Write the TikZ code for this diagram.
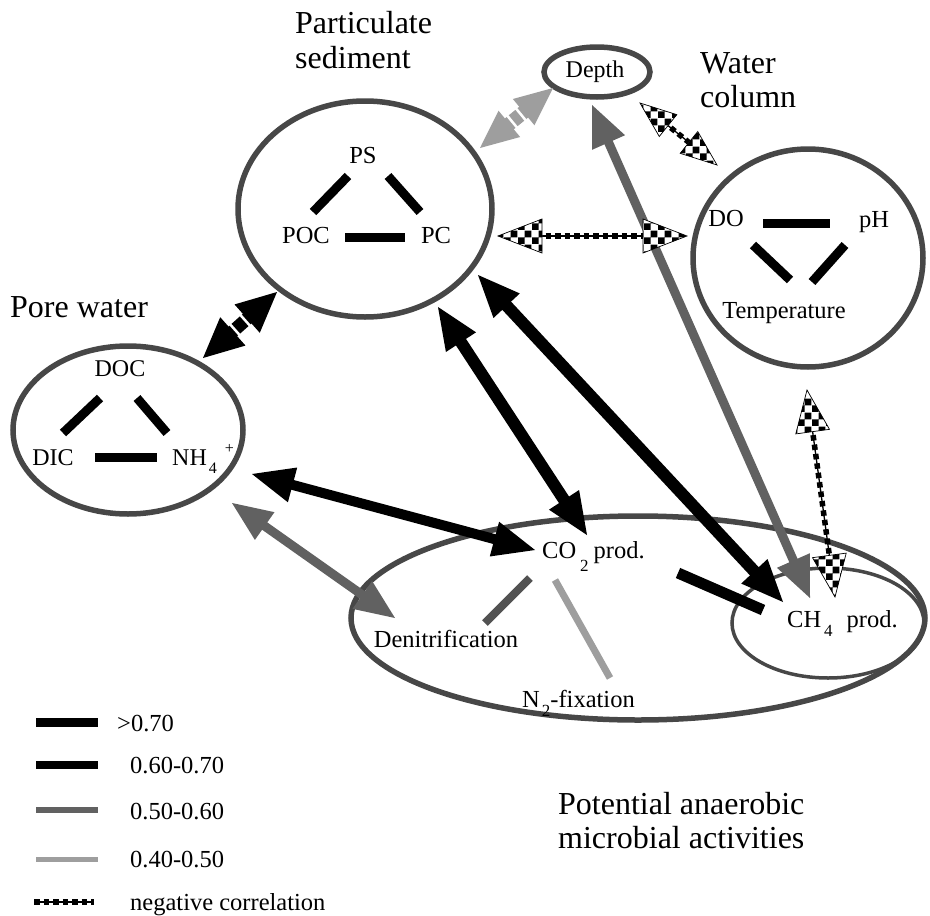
\documentclass[tikz,border=0pt]{standalone}
\usepackage{fontspec}
\setmainfont{Liberation Serif}
\usetikzlibrary{calc,patterns,shapes.geometric}
\pgfdeclarepatternformonly{checker}{\pgfpointorigin}{\pgfqpoint{14pt}{14pt}}{\pgfqpoint{14pt}{14pt}}{%
  \pgfpathrectangle{\pgfpointorigin}{\pgfqpoint{7pt}{7pt}}%
  \pgfpathrectangle{\pgfqpoint{7pt}{7pt}}{\pgfqpoint{7pt}{7pt}}%
  \pgfusepath{fill}}
\newcommand{\dblarr}[6]{%
  \path ($(#3)!#5pt!(#4)$) coordinate (hbA) ($(#4)!#5pt!(#3)$) coordinate (hbB)
        ($(#3)!#5pt-6pt!(#4)$) coordinate (shA) ($(#4)!#5pt-6pt!(#3)$) coordinate (shB);
  \draw[#1] (shA) -- (shB);
  \path[#2] (#3) -- ($(hbA)!#6pt!90:(#3)$) -- ($(hbA)!#6pt!-90:(#3)$) -- cycle;
  \path[#2] (#4) -- ($(hbB)!#6pt!90:(#4)$) -- ($(hbB)!#6pt!-90:(#4)$) -- cycle;
}
\newcommand{\wtick}[4]{%
  \path ($(#1)!#3!(#2)$) coordinate (wtp);
  \draw[white, line width=2.5pt] ($(wtp)!#4pt!90:(#2)$) -- ($(wtp)!#4pt!-90:(#2)$);
}
\begin{document}
\begin{tikzpicture}[x=1pt,y=-1pt,
  ring/.style={ellipse, draw=black!72, line width=5.5pt, inner sep=0pt},
  thinring/.style={ellipse, draw=black!72, line width=3.5pt, inner sep=0pt},
  lab/.style={font=\fontsize{24.5}{26}\selectfont, inner sep=0pt, anchor=base},
  ttl/.style={font=\fontsize{32}{35}\selectfont, inner sep=0pt, anchor=base west},
  leg/.style={font=\fontsize{24.5}{26}\selectfont, inner sep=0pt, anchor=base west},
  cA/.style={line width=9pt, black},
  negshaft/.style={line width=5.5pt, dash pattern=on 5.5pt off 4pt, preaction={draw, line width=1.3pt, solid}},
  hblack/.style={fill=black},
  hgray/.style={fill=black!62},
  hlight/.style={fill=black!38},
  hneg/.style={preaction={fill=white}, pattern=checker, draw=black, line width=0.7pt},
  shblack/.style={line width=12pt, black},
  shgray/.style={line width=9pt, black!62},
  shlight/.style={line width=14pt, black!38},
]
\useasboundingbox (0,0) rectangle (930,916);

% ---- containers
\node[ring, minimum width=254pt, minimum height=216pt] (part) at (365,209) {};
\node[ring, minimum width=230pt, minimum height=168pt] (pore) at (128,430) {};
\node[ring, minimum width=230pt, minimum height=218pt] (water) at (808,258) {};
\node[ring, minimum width=106pt, minimum height=50pt] (depthE) at (597,72) {};
\node[ring, minimum width=574pt, minimum height=204pt] (micro) at (638,618) {};
\node[thinring, minimum width=192pt, minimum height=110pt] (ch4E) at (828,623) {};

% ---- titles
\node[ttl] (t1) at (295,33) {Particulate};
\node[ttl] (t2) at (295,68) {sediment};
\node[ttl] (t3) at (700,73) {Water};
\node[ttl] (t4) at (700,107) {column};
\node[ttl] (t5) at (10,317) {Pore water};
\node[ttl] (t6) at (558,814) {Potential anaerobic};
\node[ttl] (t7) at (558,848) {microbial activities};

% ---- labels
\node[lab, font=\fontsize{24}{25}\selectfont] (depth) at (595,77) {Depth};
\node[lab] (PS) at (363,163) {PS};
\node[lab] (POC) at (306,243) {POC};
\node[lab] (PC) at (436,243) {PC};
\node[lab, font=\fontsize{24}{25}\selectfont] (DOC) at (120,376) {DOC};
\node[lab, font=\fontsize{24}{25}\selectfont] (DIC) at (53,465) {DIC};
\node[lab, font=\fontsize{24}{25}\selectfont, anchor=base west] (NH) at (172,465) {NH\hspace{2pt}\raisebox{-8pt}{\fontsize{16}{16}\selectfont 4}\hspace{8pt}\raisebox{12pt}{\fontsize{16}{16}\selectfont +}};
\node[lab] (DO) at (726,226) {DO};
\node[lab] (pH) at (874,227) {pH};
\node[lab] (Temp) at (784,318) {Temperature};
\node[lab, anchor=base west] (CO2) at (542,558) {CO\hspace{4pt}\raisebox{-13pt}{\fontsize{17}{17}\selectfont 2}\hspace{5pt}prod.};
\node[lab, anchor=base west] (CH4) at (787,627) {CH\hspace{3pt}\raisebox{-9pt}{\fontsize{17}{17}\selectfont 4}\hspace{14pt}prod.};
\node[lab] (Denit) at (446,647) {Denitrification};
\node[lab, anchor=base west] (N2) at (522,707) {N\hspace{2pt}\raisebox{-9pt}{\fontsize{17}{17}\selectfont 2}-fixation};

% ---- internal correlations
\draw[cA] ($(PS.base)+(-15,13)$) -- ($(POC.base)+(7,-31)$);
\draw[cA] ($(PS.base)+(25,13)$) -- ($(PC.base)+(-16,-31)$);
\draw[cA] ($(POC.base)+(39,-6)$) -- ($(PC.base)+(-31,-6)$);
\draw[cA] ($(DOC.base)+(-20,22)$) -- ($(DIC.base)+(10,-32)$);
\draw[cA] ($(DOC.base)+(17,22)$) -- ($(NH.base west)+(-5,-32)$);
\draw[cA] ($(DIC.base)+(42,-8)$) -- ($(NH.base west)+(-15,-8)$);
\draw[cA] ($(DO.base)+(37,-3)$) -- ($(pH.base)+(-44,-4)$);
\draw[cA] ($(DO.base)+(27,19)$) -- ($(Temp.base)+(6,-38)$);
\draw[cA] ($(pH.base)+(-29,18)$) -- ($(Temp.base)+(28,-36)$);
\draw[line width=8pt, black!68] ($(CO2.base west)+(-12,20)$) -- ($(Denit.base)+(39,-24)$);
\draw[line width=7pt, black!38] ($(CO2.base west)+(13,22)$) -- ($(N2.base west)+(88,-29)$);
\draw[line width=11pt, black] ($(CO2.base west)+(136,15)$) -- ($(CH4.base west)+(-24,-17)$);

% ---- tips
\coordinate (a1p) at (203,358); \coordinate (a1q) at (277,292);
\coordinate (a2p) at (438,307); \coordinate (a2q) at (587,535);
\coordinate (a3p) at (478,275); \coordinate (a3q) at (783,602);
\coordinate (a4p) at (252,474); \coordinate (a4q) at (535,550);
\coordinate (a5p) at (232,503); \coordinate (a5q) at (395,618);
\coordinate (a6p) at (480,148); \coordinate (a6q) at (553,88);
\coordinate (a7p) at (592,105); \coordinate (a7q) at (810,598);
\coordinate (a8p) at (640,103); \coordinate (a8q) at (717,165);
\coordinate (a9p) at (498,236); \coordinate (a9q) at (687,236);
\coordinate (a10p) at (807,390); \coordinate (a10q) at (835,597);

% ---- arrows
\dblarr{shgray}{hgray}{a7p}{a7q}{41}{18}
\dblarr{shblack}{hblack}{a2p}{a2q}{42}{18}
\dblarr{shblack}{hblack}{a3p}{a3q}{42}{18}
\dblarr{shblack, line width=10pt}{hblack}{a4p}{a4q}{42}{18}
\dblarr{shgray}{hgray}{a5p}{a5q}{40}{17}
\dblarr{shblack, line width=13pt}{hblack}{a1p}{a1q}{40}{19}
\wtick{a1p}{a1q}{0.43}{8}
\wtick{a1p}{a1q}{0.57}{8}
\dblarr{shlight}{hlight}{a6p}{a6q}{38}{17}
\wtick{a6p}{a6q}{0.44}{8}
\wtick{a6p}{a6q}{0.56}{8}
\dblarr{negshaft}{hneg}{a8p}{a8q}{36}{14}
\dblarr{negshaft}{hneg}{a9p}{a9q}{44}{17}
\dblarr{negshaft}{hneg}{a10p}{a10q}{42}{17}

% ---- legend
\node[leg] (l1) at (117,731) {>0.70};
\node[leg] (l2) at (130,773) {0.60-0.70};
\node[leg] (l3) at (130,819) {0.50-0.60};
\node[leg] (l4) at (130,867) {0.40-0.50};
\node[leg] (l5) at (130,910) {negative correlation};
\draw[line width=9pt, black] ($(l1.base west)+(-81,-9)$) -- ++(62,0);
\draw[line width=7.5pt, black] ($(l2.base west)+(-94,-8)$) -- ++(62,0);
\draw[line width=6pt, black!62] ($(l3.base west)+(-94,-9)$) -- ++(62,0);
\draw[line width=5pt, black!38] ($(l4.base west)+(-94,-8)$) -- ++(62,0);
\draw[negshaft] ($(l5.base west)+(-96,-8)$) -- ++(60,0);
\end{tikzpicture}
\end{document}
